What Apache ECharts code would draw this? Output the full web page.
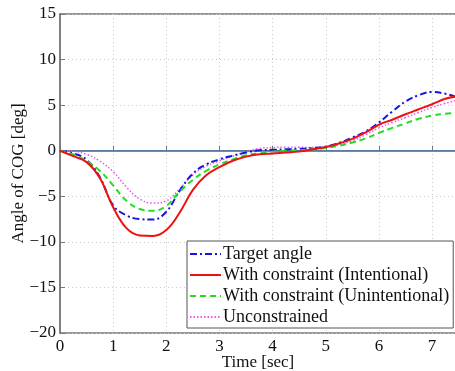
<!DOCTYPE html>
<html>
<head>
<meta charset="utf-8">
<script src="https://cdn.jsdelivr.net/npm/echarts@6/dist/echarts.min.js"></script>
<style>
html,body{margin:0;padding:0;background:#fff;}
#chart{width:455px;height:371px;}
</style>
</head>
<body>
<div id="chart"></div>
<script>
var time = [0,0.25,0.5,0.75,1.0,1.25,1.5,1.75,2.0,2.25,2.5,2.75,3.0,3.25,3.5,3.75,4.0,4.25,4.5,4.75,5.0,5.25,5.5,5.75,6.0,6.25,6.5,6.75,7.0,7.25,7.45];
var targetAngle = [0,-0.3,-1.0,-2.9,-6.0,-7.1,-7.5,-7.55,-6.7,-4.4,-2.5,-1.5,-0.95,-0.55,-0.2,0.05,0.1,0.15,0.2,0.3,0.45,0.85,1.45,2.1,3.1,4.3,5.4,6.1,6.45,6.25,5.9];
var withIntentional = [0,-0.6,-1.25,-3.0,-6.2,-8.5,-9.3,-9.35,-8.7,-6.8,-4.3,-2.7,-1.8,-1.1,-0.65,-0.4,-0.3,-0.2,-0.1,0.15,0.4,0.8,1.3,2.0,2.85,3.4,4.0,4.55,5.1,5.7,5.95];
var withUnintentional = [0,-0.4,-1.15,-2.2,-3.8,-5.5,-6.4,-6.6,-6.05,-4.5,-3.2,-2.2,-1.5,-0.95,-0.5,-0.25,-0.1,0.0,0.05,0.15,0.3,0.55,0.9,1.35,1.95,2.5,3.0,3.5,3.85,4.05,4.15];
var unconstrained = [0,-0.05,-0.4,-1.15,-2.3,-4.0,-5.3,-5.75,-5.5,-4.2,-2.65,-1.7,-1.1,-0.6,-0.1,0.25,0.35,0.38,0.38,0.35,0.4,0.65,1.1,1.75,2.5,3.1,3.65,4.2,4.75,5.2,5.5];
var zeroLine = [[0,0],[7.45,0]];
var seriesNames = ['Target angle','With constraint (Intentional)','With constraint (Unintentional)','Unconstrained'];

function pairs(ys){ return ys.map(function(v,i){ return [time[i], v]; }); }
var font = 'Liberation Serif, DejaVu Serif, serif';
var chart = echarts.init(document.getElementById('chart'));
var fmt = function(v){ return String(v).replace('-', '\u2212'); };
chart.setOption({
  animation:false,
  backgroundColor:'#fff',
  grid:{left:60,top:14,right:-1,bottom:38,containLabel:false,outerBoundsMode:'none',
    show:true,borderColor:'#777',borderWidth:1.5,backgroundColor:'transparent'},
  xAxis:{type:'value',min:0,max:7.45,interval:1,
    name:'Time [sec]',nameLocation:'middle',nameGap:21,nameMoveOverlap:false,
    nameTextStyle:{fontFamily:font,fontSize:17,color:'#111'},
    axisLine:{lineStyle:{color:'#777',width:1.5}},
    axisTick:{inside:true,length:5,lineStyle:{color:'#777'}},
    axisLabel:{fontFamily:font,fontSize:17,color:'#111',margin:5,formatter:fmt,showMaxLabel:false},
    splitLine:{show:true,lineStyle:{color:'#ccc',type:[1,3],width:1}}
  },
  yAxis:{type:'value',min:-20,max:15,interval:5,
    name:'Angle of COG [deg]',nameLocation:'middle',nameGap:33,nameMoveOverlap:false,
    nameTextStyle:{fontFamily:font,fontSize:17,color:'#111'},
    axisLine:{lineStyle:{color:'#777',width:1.5}},
    axisTick:{inside:true,length:5,lineStyle:{color:'#777'}},
    axisLabel:{fontFamily:font,fontSize:17,color:'#111',margin:4,formatter:fmt},
    splitLine:{show:true,lineStyle:{color:'#ccc',type:[1,3],width:1}}
  },
  legend:{orient:'vertical',left:187,top:241,data:seriesNames,
    itemWidth:31,itemHeight:14,itemGap:3,
    itemStyle:{color:'transparent',borderColor:'transparent',borderWidth:0,opacity:0},
    padding:[4,4,2,2],
    backgroundColor:'#fff',borderColor:'#555',borderWidth:1,borderRadius:0,
    textStyle:{fontFamily:font,fontSize:18,color:'#111',padding:[0,0,0,-3]}
  },
  series:[
    {name:'zero',type:'line',data:zeroLine,symbol:'none',silent:true,
      lineStyle:{color:'#5a7a9e',width:1.5},z:1},
    {name:seriesNames[0],type:'line',data:pairs(targetAngle),symbol:'none',smooth:0.4,
      itemStyle:{color:'#1515e0'},lineStyle:{color:'#1515e0',width:2,type:[7,3,2,3]},z:3},
    {name:seriesNames[1],type:'line',data:pairs(withIntentional),symbol:'none',smooth:0.4,
      itemStyle:{color:'#ee1111'},lineStyle:{color:'#ee1111',width:2},z:4},
    {name:seriesNames[2],type:'line',data:pairs(withUnintentional),symbol:'none',smooth:0.4,
      itemStyle:{color:'#22dd22'},lineStyle:{color:'#22dd22',width:2,type:[6,4]},z:3},
    {name:seriesNames[3],type:'line',data:pairs(unconstrained),symbol:'none',smooth:0.4,
      itemStyle:{color:'#ee55ee'},lineStyle:{color:'#ee55ee',width:1.5,type:[1.5,2]},z:2}
  ]
});
</script>
</body>
</html>
